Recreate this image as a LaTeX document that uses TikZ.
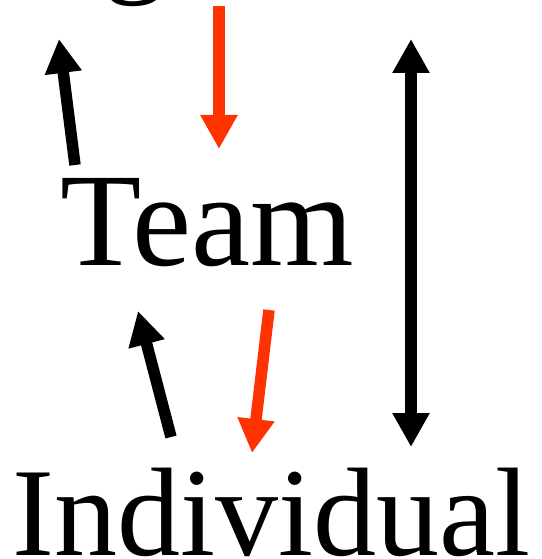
\documentclass[tikz,border=0pt]{standalone}
\usepackage{fontspec}
\setmainfont{Liberation Serif}
\usetikzlibrary{arrows.meta}
\definecolor{redarrow}{RGB}{255,51,0}
\tikzset{
  bigword/.style={inner sep=0pt, anchor=base, font=\fontsize{126}{126}\selectfont},
  fatarrow/.style={line width=11.5pt, -{Triangle[width=35pt,length=34pt]}},
  fatdouble/.style={line width=11.5pt, {Triangle[width=35pt,length=34pt]}-{Triangle[width=35pt,length=34pt]}},
}
\begin{document}
\begin{tikzpicture}[x=1pt,y=-1pt]
\useasboundingbox (0,0) rectangle (541,559);
\clip (0,0) rectangle (541,559);
\node[bigword] (g) at (135,-20) {g};
\node[bigword, font=\fontsize{133}{133}\selectfont] (team) at (207,265) {Team};
\node[bigword] (indiv) at (271,555) {Individual};
% arrow end points
\coordinate (a1s) at (75,165);
\coordinate (a1e) at (59,39);
\coordinate (r1s) at (219,6);
\coordinate (r1e) at (219,149);
\coordinate (a2s) at (171,437);
\coordinate (a2e) at (138,311);
\coordinate (r2s) at (269,310);
\coordinate (r2e) at (252,453);
\coordinate (ds) at (411,39);
\coordinate (de) at (411,447);
\draw[fatarrow] (a1s) -- (a1e);
\draw[fatarrow, redarrow] (r1s) -- (r1e);
\draw[fatarrow] (a2s) -- (a2e);
\draw[fatarrow, redarrow] (r2s) -- (r2e);
\draw[fatdouble] (ds) -- (de);
\end{tikzpicture}
\end{document}
